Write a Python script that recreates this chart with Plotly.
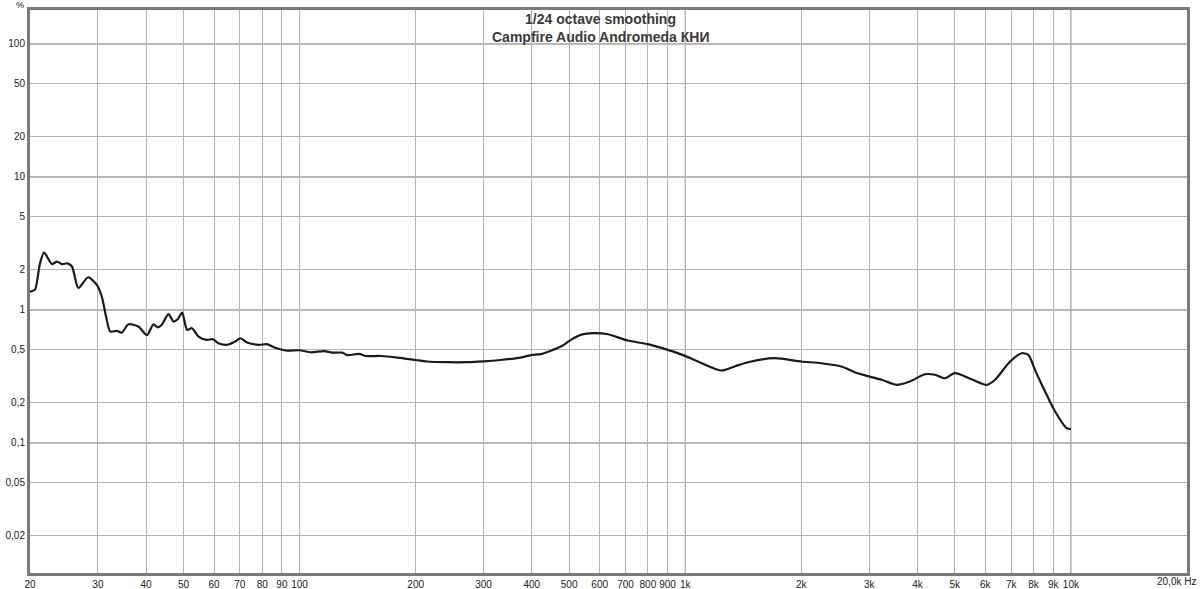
import plotly.graph_objects as go
import numpy as np

# ---- data ----
freq_hz = [20, 20.6, 21.2, 21.75, 22.8, 23.5, 24.2, 25.0, 25.7, 26.7, 28.3, 29.8, 30.7, 31.5,
           32.3, 33.6, 34.6, 36.0, 38.2, 40.2, 41.8, 42.8, 43.9, 45.7, 47.1, 48.3, 49.6,
           51.1, 52.6, 54.7, 57.5, 59.6, 61.6, 64.8, 68.1, 70.2, 73.1, 78.3, 82.3, 85.7,
           92.8, 100, 107, 115.8, 121.5, 129, 133, 142.6, 148.6, 162.5, 179.4, 200, 214,
           241.8, 272.5, 300, 332, 374, 401, 422, 476, 505, 536, 580, 630, 709, 800, 901,
           995, 1078, 1239, 1342, 1454, 1705, 2000, 2254, 2540, 2751, 3008, 3230, 3530,
           3822, 4180, 4440, 4710, 5000, 5530, 6050, 6360, 6955, 7450, 7760, 8070, 8570,
           9100, 9750, 10000]
thd_pct = [1.37, 1.42, 2.2, 2.70, 2.21, 2.31, 2.21, 2.24, 2.12, 1.46, 1.76, 1.54, 1.26, 0.89,
           0.687, 0.695, 0.675, 0.78, 0.749, 0.645, 0.78, 0.74, 0.77, 0.93, 0.817, 0.851, 0.954,
           0.707, 0.728, 0.63, 0.595, 0.602, 0.562, 0.546, 0.578, 0.612, 0.568, 0.546, 0.552, 0.524,
           0.494, 0.497, 0.48, 0.49, 0.477, 0.477, 0.457, 0.467, 0.45, 0.45, 0.438, 0.42, 0.409,
           0.404, 0.404, 0.41, 0.42, 0.438, 0.459, 0.465, 0.53, 0.595, 0.649, 0.668, 0.656, 0.588, 0.552, 0.50,
           0.453, 0.409, 0.35, 0.375, 0.404, 0.433, 0.409, 0.397, 0.375, 0.34, 0.315, 0.298, 0.273,
           0.289, 0.328, 0.325, 0.306, 0.334, 0.301, 0.273, 0.298, 0.409, 0.472, 0.459, 0.354, 0.243,
           0.172, 0.129, 0.127]

x_grid = [20, 30, 40, 50, 60, 70, 80, 90, 100, 200, 300, 400, 500, 600, 700, 800, 900,
          1000, 2000, 3000, 4000, 5000, 6000, 7000, 8000, 9000, 10000, 20000]
x_labels = ["20", "30", "40", "50", "60", "70", "80", "90", "100", "200", "300", "400", "500",
            "600", "700", "800", "900", "1k", "2k", "3k", "4k", "5k", "6k", "7k", "8k", "9k", "10k", ""]
y_grid = [0.02, 0.05, 0.1, 0.2, 0.5, 1, 2, 5, 10, 20, 50, 100]
y_labels = ["0,02", "0,05", "0,1", "0,2", "0,5", "1", "2", "5", "10", "20", "50", "100"]
x_decades = [100, 1000, 10000]
y_decades = [0.1, 1, 10, 100]

title_lines = ["1/24 octave smoothing", "Campfire Audio Andromeda КНИ"]
x_unit = "20,0k Hz"
y_unit = "%"

W, H = 1200, 589
ML, MR, MT, MB = 30, 13, 10, 16
plot_h = H - MT - MB

font_family = "Liberation Sans, Arial, sans-serif"

fig = go.Figure()
fig.add_trace(go.Scatter(
    x=freq_hz, y=thd_pct, mode="lines",
    line=dict(color="#1a1a1a", width=2.2, shape="spline", smoothing=0.7),
    hoverinfo="x+y", showlegend=False,
))

shapes = []
for xv in x_decades:
    shapes.append(dict(type="line", xref="x", yref="paper", x0=xv, x1=xv, y0=0, y1=1,
                       line=dict(color="#8a8a8a", width=1), layer="between"))
for yv in y_decades:
    shapes.append(dict(type="line", xref="paper", yref="y", x0=0, x1=1, y0=yv, y1=yv,
                       line=dict(color="#7a7a7a", width=1.2), layer="between"))

annotations = []
title_y_px = [19, 37]
for txt, ypx in zip(title_lines, title_y_px):
    annotations.append(dict(text="<b>" + txt + "</b>", xref="paper", yref="paper",
                            x=(600 - ML) / (W - ML - MR), y=(H - MB - ypx) / plot_h,
                            xanchor="center", yanchor="middle", showarrow=False,
                            font=dict(family=font_family, size=14, color="#3a3a3a")))
annotations.append(dict(text=x_unit, xref="paper", yref="paper", x=1, y=0,
                        xanchor="right", yanchor="top", xshift=11, yshift=-1, showarrow=False,
                        font=dict(family=font_family, size=10, color="#222")))
annotations.append(dict(text=y_unit, xref="paper", yref="paper", x=0, y=1,
                        xanchor="right", yanchor="bottom", xshift=-4, yshift=-2, showarrow=False,
                        font=dict(family=font_family, size=9, color="#222")))

fig.update_layout(
    width=W, height=H,
    margin=dict(l=ML, r=MR, t=MT, b=MB, pad=0),
    paper_bgcolor="white", plot_bgcolor="white",
    shapes=shapes, annotations=annotations,
    font=dict(family=font_family, size=10, color="#222"),
    xaxis=dict(type="log", range=[np.log10(20), np.log10(20000)],
               tickvals=x_grid, ticktext=x_labels, ticks="",
               showgrid=True, gridcolor="#b4b4b4", gridwidth=1,
               showline=True, linecolor="#7a7a7a", linewidth=3, mirror=True,
               zeroline=False, tickfont=dict(size=10, color="#222"), automargin=False),
    yaxis=dict(type="log", range=[np.log10(0.0105), np.log10(180)],
               tickvals=y_grid, ticktext=y_labels, ticks="",
               showgrid=True, gridcolor="#b4b4b4", gridwidth=1,
               showline=True, linecolor="#7a7a7a", linewidth=3, mirror=True,
               zeroline=False, tickfont=dict(size=10, color="#222"), automargin=False),
)

fig.write_html("out.html", config={"displayModeBar": False},
               post_script="document.body.style.margin='0';document.body.style.overflow='hidden';")
